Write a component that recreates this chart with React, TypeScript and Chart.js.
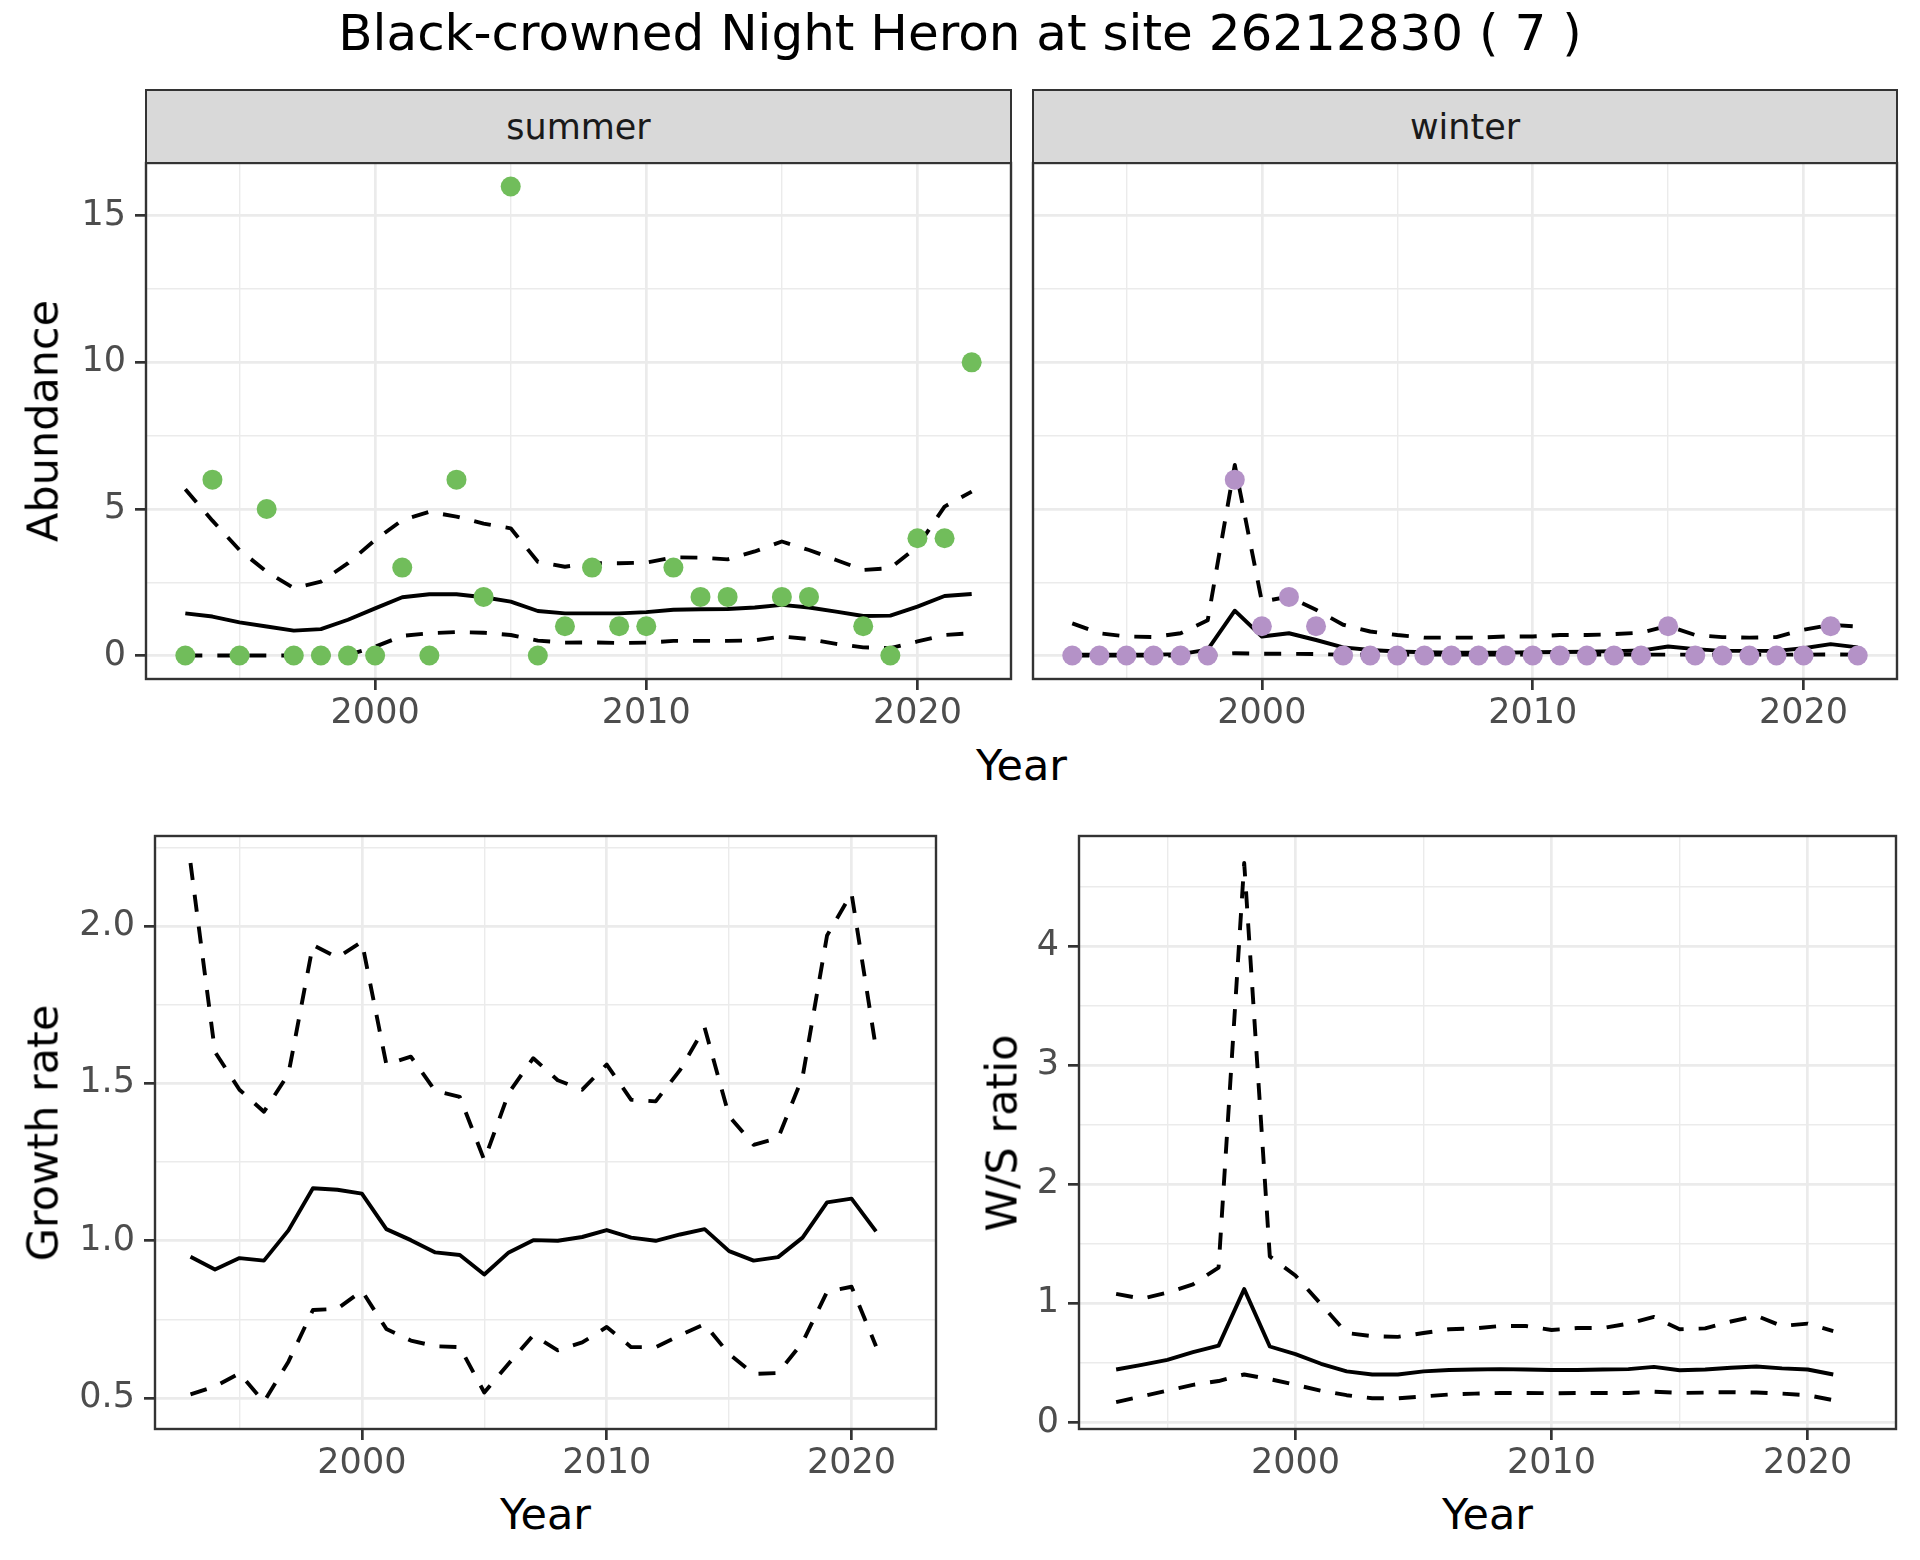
import React, { useEffect, useRef } from "react";
import { Chart, registerables } from "chart.js";
Chart.register(...registerables);

// ---------------- data ----------------
const years = [1993, 1994, 1995, 1996, 1997, 1998, 1999, 2000, 2001, 2002, 2003, 2004, 2005, 2006, 2007, 2008, 2009, 2010, 2011, 2012, 2013, 2014, 2015, 2016, 2017, 2018, 2019, 2020, 2021, 2022];
const ratioYears = [1993, 1994, 1995, 1996, 1997, 1998, 1999, 2000, 2001, 2002, 2003, 2004, 2005, 2006, 2007, 2008, 2009, 2010, 2011, 2012, 2013, 2014, 2015, 2016, 2017, 2018, 2019, 2020, 2021];

const summerCounts = [0, 6, 0, 5, 0, 0, 0, 0, 3, 0, 6, 2, 16, 0, 1, 3, 1, 1, 3, 2, 2, null, 2, 2, null, 1, 0, 4, 4, 10];
const summerMean = [1.44, 1.33, 1.13, 0.99, 0.85, 0.9, 1.22, 1.61, 1.99, 2.09, 2.09, 1.99, 1.84, 1.52, 1.44, 1.44, 1.44, 1.48, 1.56, 1.58, 1.59, 1.64, 1.73, 1.64, 1.5, 1.35, 1.36, 1.67, 2.03, 2.1];
const summerUpper = [5.67, 4.6, 3.6, 2.86, 2.3, 2.52, 3.15, 3.94, 4.62, 4.9, 4.74, 4.5, 4.34, 3.2, 3.03, 3.15, 3.15, 3.17, 3.35, 3.34, 3.28, 3.55, 3.89, 3.6, 3.26, 2.92, 2.98, 3.72, 5.08, 5.59];
const summerLower = [0, 0, 0, 0, 0, 0, 0.02, 0.3, 0.67, 0.76, 0.8, 0.78, 0.7, 0.51, 0.44, 0.45, 0.43, 0.44, 0.5, 0.5, 0.5, 0.52, 0.65, 0.56, 0.4, 0.28, 0.25, 0.48, 0.7, 0.76];

const winterCounts = [0, 0, 0, 0, 0, 0, 6, 1, 2, 1, 0, 0, 0, 0, 0, 0, 0, 0, 0, 0, 0, 0, 1, 0, 0, 0, 0, 0, 1, 0];
const winterMean = [0.03, 0.03, 0.03, 0.03, 0.05, 0.2, 1.53, 0.65, 0.76, 0.53, 0.28, 0.19, 0.14, 0.11, 0.1, 0.1, 0.1, 0.11, 0.12, 0.13, 0.15, 0.17, 0.31, 0.22, 0.16, 0.16, 0.16, 0.25, 0.39, 0.28];
const winterUpper = [1.1, 0.76, 0.65, 0.63, 0.76, 1.2, 6.5, 1.84, 2.01, 1.56, 1.05, 0.82, 0.7, 0.61, 0.61, 0.61, 0.65, 0.65, 0.7, 0.7, 0.73, 0.78, 1.01, 0.7, 0.63, 0.61, 0.63, 0.88, 1.05, 0.99];
const winterLower = [0, 0, 0, 0, 0, 0.01, 0.08, 0.06, 0.06, 0.05, 0.03, 0.03, 0.03, 0.03, 0.03, 0.03, 0.03, 0.03, 0.03, 0.03, 0.03, 0.03, 0.03, 0.03, 0.03, 0.03, 0.03, 0.03, 0.04, 0.03];

const growthMean = [0.949, 0.909, 0.945, 0.937, 1.033, 1.167, 1.162, 1.15, 1.037, 1.002, 0.963, 0.955, 0.893, 0.963, 1.002, 1.0, 1.012, 1.034, 1.01, 1.0, 1.02, 1.037, 0.967, 0.937, 0.948, 1.01, 1.122, 1.134, 1.03];
const growthUpper = [2.2, 1.6, 1.48, 1.41, 1.53, 1.94, 1.9, 1.95, 1.56, 1.585, 1.476, 1.457, 1.256, 1.47, 1.58, 1.51, 1.48, 1.56, 1.448, 1.443, 1.543, 1.677, 1.396, 1.305, 1.326, 1.52, 1.97, 2.104, 1.61];
const growthLower = [0.512, 0.537, 0.579, 0.488, 0.616, 0.78, 0.784, 0.841, 0.72, 0.683, 0.665, 0.662, 0.518, 0.61, 0.7, 0.652, 0.677, 0.726, 0.662, 0.662, 0.7, 0.735, 0.64, 0.577, 0.58, 0.677, 0.838, 0.854, 0.665];

const wsMean = [0.445, 0.483, 0.525, 0.59, 0.645, 1.12, 0.638, 0.574, 0.493, 0.429, 0.403, 0.403, 0.429, 0.44, 0.445, 0.448, 0.445, 0.44, 0.44, 0.445, 0.448, 0.467, 0.438, 0.445, 0.46, 0.47, 0.454, 0.445, 0.403];
const wsUpper = [1.08, 1.04, 1.09, 1.16, 1.3, 4.7, 1.395, 1.234, 0.993, 0.751, 0.725, 0.719, 0.751, 0.783, 0.79, 0.81, 0.81, 0.777, 0.793, 0.793, 0.83, 0.886, 0.783, 0.79, 0.848, 0.896, 0.81, 0.83, 0.767];
const wsLower = [0.171, 0.219, 0.267, 0.316, 0.348, 0.403, 0.364, 0.316, 0.267, 0.229, 0.203, 0.203, 0.219, 0.235, 0.242, 0.248, 0.248, 0.245, 0.248, 0.248, 0.248, 0.258, 0.248, 0.251, 0.255, 0.251, 0.242, 0.229, 0.187];

// tick labels
const xMajorTicks = [2000, 2010, 2020];
const xMinorTicks = [1995, 2005, 2015];
const abundMajorTicks = [0, 5, 10, 15];
const abundMinorTicks = [2.5, 7.5, 12.5];
const growthMajorTicks = [0.5, 1.0, 1.5, 2.0];
const growthMinorTicks = [0.75, 1.25, 1.75, 2.25];
const wsMajorTicks = [0, 1, 2, 3, 4];
const wsMinorTicks = [0.5, 1.5, 2.5, 3.5, 4.5];

const titleText = "Black-crowned Night Heron at site 26212830 ( 7 )";
const stripLabels = ["summer", "winter"];

// ---------------- style ----------------
const FONT = '"DejaVu Sans", "Liberation Sans", sans-serif';
const GREEN = "#71BD5B";
const PURPLE = "#B492C7";
const GRID = "#EBEBEB";
const DARK = "#333333";
const TICKTXT = "#4D4D4D";
const TICK_FONT = 35;
const AXIS_TITLE_FONT = 43;
const LINE_W = 3.9;
const DASH = [17, 15];

Chart.defaults.font.family = FONT;

function xy(xs: number[], ys: (number | null)[]) {
  const out: { x: number; y: number }[] = [];
  for (let i = 0; i < xs.length; i++) {
    const v = ys[i];
    if (v !== null && v !== undefined) out.push({ x: xs[i], y: v });
  }
  return out;
}

function lineDs(xs: number[], ys: (number | null)[], dashed: boolean) {
  return {
    data: xy(xs, ys),
    borderColor: "#000000",
    borderWidth: LINE_W,
    borderDash: dashed ? DASH : [],
    borderJoinStyle: "round",
    pointRadius: 0,
    pointHoverRadius: 0,
    tension: 0,
    fill: false,
    order: 1,
  };
}

function pointDs(xs: number[], ys: (number | null)[], color: string) {
  return {
    data: xy(xs, ys),
    showLine: false,
    pointRadius: 10,
    pointHoverRadius: 10,
    pointBorderWidth: 0,
    pointBackgroundColor: color,
    backgroundColor: color,
    borderColor: color,
    order: 0,
  };
}

const borderPlugin = {
  id: "panelBorder",
  afterDraw(chart: any) {
    const { ctx, chartArea: a } = chart;
    ctx.save();
    ctx.strokeStyle = DARK;
    ctx.lineWidth = 2.4;
    ctx.strokeRect(a.left, a.top, a.right - a.left, a.bottom - a.top);
    ctx.restore();
  },
};

type Spec = {
  datasets: any[];
  xMin: number;
  xMax: number;
  yMin: number;
  yMax: number;
  yMajor: number[];
  yMinor: number[];
  yFmt: (v: number) => string;
  yWidth: number;
  showY: boolean;
};

function buildConfig(spec: Spec): any {
  const xTicks = [...xMinorTicks, ...xMajorTicks].sort((a, b) => a - b);
  const yTicks = [...spec.yMinor, ...spec.yMajor].sort((a, b) => a - b);
  const isXMaj = (v: any) => xMajorTicks.includes(v);
  const isYMaj = (v: any) => spec.yMajor.includes(v);
  return {
    type: "line",
    data: { datasets: spec.datasets },
    options: {
      responsive: false,
      maintainAspectRatio: false,
      animation: false,
      events: [],
      layout: { padding: { top: 30, right: 10, bottom: 0, left: 10 } },
      plugins: {
        legend: { display: false },
        tooltip: { enabled: false },
        title: { display: false },
      },
      scales: {
        x: {
          type: "linear",
          min: spec.xMin,
          max: spec.xMax,
          bounds: "data",
          afterBuildTicks: (s: any) => {
            s.ticks = xTicks.map((v) => ({ value: v }));
          },
          afterFit: (s: any) => {
            s.height = 60;
          },
          border: { display: false },
          grid: {
            color: GRID,
            lineWidth: (c: any) => (c.tick && isXMaj(c.tick.value) ? 2.7 : 1.4),
            drawTicks: true,
            tickLength: 11,
            tickWidth: 2.7,
            tickColor: (c: any) => (c.tick && isXMaj(c.tick.value) ? DARK : "rgba(0,0,0,0)"),
          },
          ticks: {
            autoSkip: false,
            maxRotation: 0,
            minRotation: 0,
            padding: 3,
            color: TICKTXT,
            font: { family: FONT, size: TICK_FONT },
            callback: (v: any) => (isXMaj(v) ? String(v) : ""),
          },
        },
        y: {
          type: "linear",
          min: spec.yMin,
          max: spec.yMax,
          bounds: "data",
          afterBuildTicks: (s: any) => {
            s.ticks = yTicks.map((v) => ({ value: v }));
          },
          afterFit: (s: any) => {
            s.width = spec.yWidth;
          },
          border: { display: false },
          grid: {
            color: GRID,
            lineWidth: (c: any) => (c.tick && isYMaj(c.tick.value) ? 2.7 : 1.4),
            drawTicks: spec.showY,
            tickLength: 11,
            tickWidth: 2.7,
            tickColor: (c: any) => (c.tick && isYMaj(c.tick.value) ? DARK : "rgba(0,0,0,0)"),
          },
          ticks: {
            display: spec.showY,
            autoSkip: false,
            padding: 9,
            color: TICKTXT,
            font: { family: FONT, size: TICK_FONT },
            callback: (v: any) => (isYMaj(v) ? spec.yFmt(v) : ""),
          },
        },
      },
    },
    plugins: [borderPlugin],
  };
}

function Panel(props: { spec: Spec; left: number; top: number; width: number; height: number }) {
  const ref = useRef<HTMLCanvasElement>(null);
  useEffect(() => {
    const chart = new Chart(ref.current as HTMLCanvasElement, buildConfig(props.spec));
    return () => chart.destroy();
  }, []);
  return (
    <canvas
      ref={ref}
      width={props.width}
      height={props.height}
      style={{ position: "absolute", left: props.left, top: props.top, width: props.width, height: props.height }}
    />
  );
}

const X_MIN = 1991.55;
const X_MAX = 2023.45;

const summerSpec: Spec = {
  datasets: [
    pointDs(years, summerCounts, GREEN),
    lineDs(years, summerMean, false),
    lineDs(years, summerUpper, true),
    lineDs(years, summerLower, true),
  ],
  xMin: X_MIN,
  xMax: X_MAX,
  yMin: -0.8,
  yMax: 16.8,
  yMajor: abundMajorTicks,
  yMinor: abundMinorTicks,
  yFmt: (v) => String(v),
  yWidth: 96,
  showY: true,
};

const winterSpec: Spec = {
  datasets: [
    pointDs(years, winterCounts, PURPLE),
    lineDs(years, winterMean, false),
    lineDs(years, winterUpper, true),
    lineDs(years, winterLower, true),
  ],
  xMin: X_MIN,
  xMax: X_MAX,
  yMin: -0.8,
  yMax: 16.8,
  yMajor: abundMajorTicks,
  yMinor: abundMinorTicks,
  yFmt: (v) => String(v),
  yWidth: 0,
  showY: false,
};

const growthSpec: Spec = {
  datasets: [
    lineDs(ratioYears, growthMean, false),
    lineDs(ratioYears, growthUpper, true),
    lineDs(ratioYears, growthLower, true),
  ],
  xMin: X_MIN,
  xMax: X_MAX,
  yMin: 0.402,
  yMax: 2.286,
  yMajor: growthMajorTicks,
  yMinor: growthMinorTicks,
  yFmt: (v) => v.toFixed(1),
  yWidth: 100,
  showY: true,
};

const wsSpec: Spec = {
  datasets: [
    lineDs(ratioYears, wsMean, false),
    lineDs(ratioYears, wsUpper, true),
    lineDs(ratioYears, wsLower, true),
  ],
  xMin: X_MIN,
  xMax: X_MAX,
  yMin: -0.055,
  yMax: 4.926,
  yMajor: wsMajorTicks,
  yMinor: wsMinorTicks,
  yFmt: (v) => String(v),
  yWidth: 90,
  showY: true,
};

function HText(props: { text: string; cx: number; top: number; size: number }) {
  return (
    <div
      style={{
        position: "absolute",
        left: props.cx - 1000,
        width: 2000,
        top: props.top,
        textAlign: "center",
        fontFamily: FONT,
        fontSize: props.size,
        lineHeight: 1,
        color: "#000",
        whiteSpace: "nowrap",
        zIndex: 5,
        pointerEvents: "none",
      }}
    >
      {props.text}
    </div>
  );
}

function VText(props: { text: string; cx: number; cy: number; size: number }) {
  return (
    <div
      style={{
        position: "absolute",
        left: props.cx,
        top: props.cy,
        transform: "translate(-50%, -50%) rotate(-90deg)",
        fontFamily: FONT,
        fontSize: props.size,
        lineHeight: 1,
        color: "#000",
        whiteSpace: "nowrap",
        zIndex: 5,
      }}
    >
      {props.text}
    </div>
  );
}

function Strip(props: { text: string; left: number; right: number }) {
  return (
    <div
      style={{
        position: "absolute",
        left: props.left - 1,
        top: 89,
        width: props.right - props.left + 2,
        height: 75,
        boxSizing: "border-box",
        border: `2.4px solid ${DARK}`,
        background: "#D9D9D9",
        display: "flex",
        alignItems: "center",
        justifyContent: "center",
        fontFamily: FONT,
        fontSize: 35,
        color: "#1A1A1A",
        zIndex: 4,
      }}
    >
      {props.text}
    </div>
  );
}

export default function App() {
  return (
    <div
      style={{
        position: "absolute",
        left: 0,
        top: 0,
        width: 1920,
        height: 1560,
        overflow: "hidden",
        background: "#FFFFFF",
      }}
    >
      <Panel spec={summerSpec} left={40} top={133} width={981} height={606} />
      <Panel spec={winterSpec} left={1023} top={133} width={884} height={606} />
      <Panel spec={growthSpec} left={45} top={806} width={901} height={683} />
      <Panel spec={wsSpec} left={979} top={806} width={927} height={683} />

      <HText text={titleText} cx={960} top={8} size={50} />
      <Strip text={stripLabels[0]} left={146} right={1011} />
      <Strip text={stripLabels[1]} left={1033} right={1897} />

      <HText text="Year" cx={1021.5} top={744} size={AXIS_TITLE_FONT} />
      <HText text="Year" cx={545.5} top={1493} size={AXIS_TITLE_FONT} />
      <HText text="Year" cx={1487.5} top={1493} size={AXIS_TITLE_FONT} />

      <VText text="Abundance" cx={43} cy={421} size={AXIS_TITLE_FONT} />
      <VText text="Growth rate" cx={43} cy={1132.5} size={AXIS_TITLE_FONT} />
      <VText text="W/S ratio" cx={1002} cy={1132.5} size={AXIS_TITLE_FONT} />
    </div>
  );
}
